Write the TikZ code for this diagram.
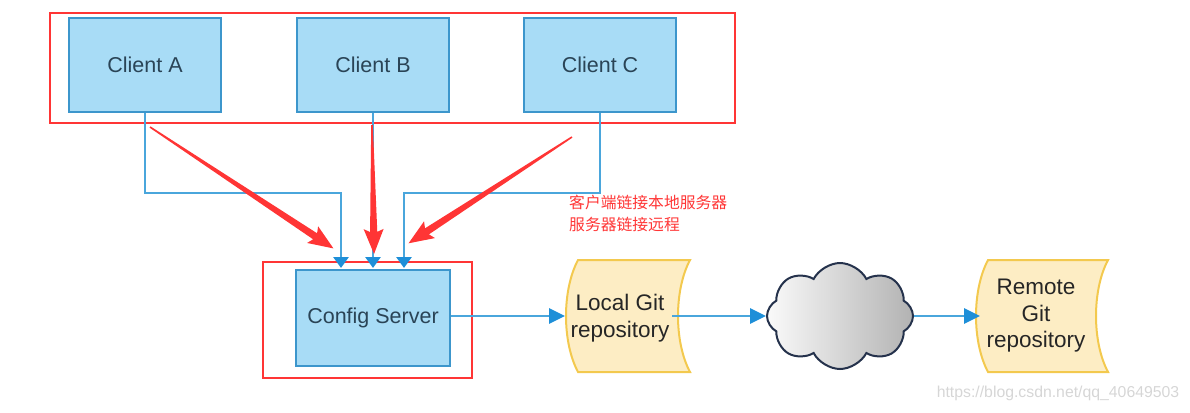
\documentclass[tikz,border=0pt]{standalone}
\usepackage{fontspec}
\setmainfont{Liberation Sans}
\newfontfamily\cjk{Noto Sans CJK SC}
\usetikzlibrary{arrows.meta,shapes.symbols,shadings}
\definecolor{boxfill}{HTML}{A8DCF6}
\definecolor{boxline}{HTML}{3C96CC}
\definecolor{boxtext}{HTML}{2A4456}
\definecolor{conncol}{HTML}{4AA6DC}
\definecolor{tipcol}{HTML}{1E8FD8}
\definecolor{annred}{HTML}{FF3535}
\definecolor{docfill}{HTML}{FDEDC4}
\definecolor{docline}{HTML}{F3C94E}
\definecolor{cloudline}{HTML}{25324C}
\definecolor{wmark}{HTML}{D6D6D6}
\newcommand\annarrow[3]{%
  \fill[annred,shift={(#1)},rotate=#2] (0,0.8) -- (#3-22,3.6) -- (#3-25,10) -- (#3,0) -- (#3-25,-10) -- (#3-22,-3.6) -- (0,-0.8) -- cycle;}
\begin{document}
\begin{tikzpicture}[x=1pt,y=1pt,
  clientbox/.style={draw=boxline,fill=boxfill,line width=2pt,minimum width=152pt,minimum height=94pt,text=boxtext,font=\fontsize{21.5}{24}\selectfont},
  conn/.style={draw=conncol,line width=2.8pt},
  smalltip/.style={conn,-{Triangle[length=11pt,width=15pt,color=tipcol]}},
  bigtip/.style={conn,-{Triangle[length=16pt,width=15pt,color=tipcol]}},
  redframe/.style={draw=annred,line width=2.8pt},
  doc/.style={fill=docfill,draw=docline,line width=2pt},
  doctext/.style={text=black!85,font=\fontsize{22.5}{26.5}\selectfont,align=center}]
\useasboundingbox (0,0) rectangle (1190,-412);
% clients
\node[clientbox] (ca) at (145,-65) {Client A};
\node[clientbox] (cb) at (373,-65) {Client B};
\node[clientbox] (cc) at (600,-65) {Client C};
\node[clientbox,minimum width=154pt,minimum height=96pt] (cs) at (373,-318) {Config Server};
% red frames
\draw[redframe] (50,-13) rectangle (735,-123);
\draw[redframe] (263,-262) rectangle (472,-378);
% inputs
\coordinate (inA) at (341,-268);
\coordinate (inB) at (373,-268);
\coordinate (inC) at (404,-268);
\draw[smalltip] (ca.south) -- ++(0,-80) -| (inA);
\draw[smalltip] (cb.south) -- (inB);
\draw[smalltip] (cc.south) -- ++(0,-80) -| (inC);
% local git
\draw[doc] (578,-260) -- (690,-260) .. controls (674,-290) and (674,-342) .. (690,-372) -- (578,-372) .. controls (562,-342) and (562,-290) .. (578,-260) -- cycle;
\node[doctext] (lg) at (620,-318) {Local Git\\repository};
% remote git
\draw[doc] (988,-260) -- (1108,-260) .. controls (1092,-290) and (1092,-342) .. (1108,-372) -- (988,-372) .. controls (972,-342) and (972,-290) .. (988,-260) -- cycle;
\node[doctext] (rg) at (1036,-316) {Remote\\Git\\repository};
% cloud
\node[cloud,cloud puffs=8,cloud puff arc=125,aspect=1.4,minimum width=146pt,minimum height=106pt,draw=cloudline,line width=2pt,left color=white!96!gray,right color=gray!60] (cl) at (840,-316) {};
% flow arrows
\coordinate (lgin) at (565,-316);
\coordinate (lgout) at (672,-316);
\coordinate (rgin) at (980,-316);
\draw[bigtip] (cs.east |- lgin) -- (lgin);
\draw[bigtip] (lgout) -- (cl.west);
\draw[bigtip] (cl.east) -- (rgin);
% annotation
\node[anchor=north west,text=annred,font=\cjk\fontsize{15.8}{22}\selectfont,align=left,inner sep=0pt] (note) at (569,-195) {客户端链接本地服务器\\服务器链接远程};
\coordinate (r1) at (150,-127);
\coordinate (r2) at (372,-125);
\coordinate (r3) at (572,-137);
\annarrow{r1}{-33.5}{220}
\annarrow{r2}{-89.1}{129}
\annarrow{r3}{-146.96}{195}
% watermark
\node[text=wmark,font=\fontsize{15.8}{17}\selectfont] (wm) at (1058,-393) {https://blog.csdn.net/qq\_40649503};
\end{tikzpicture}
\end{document}
